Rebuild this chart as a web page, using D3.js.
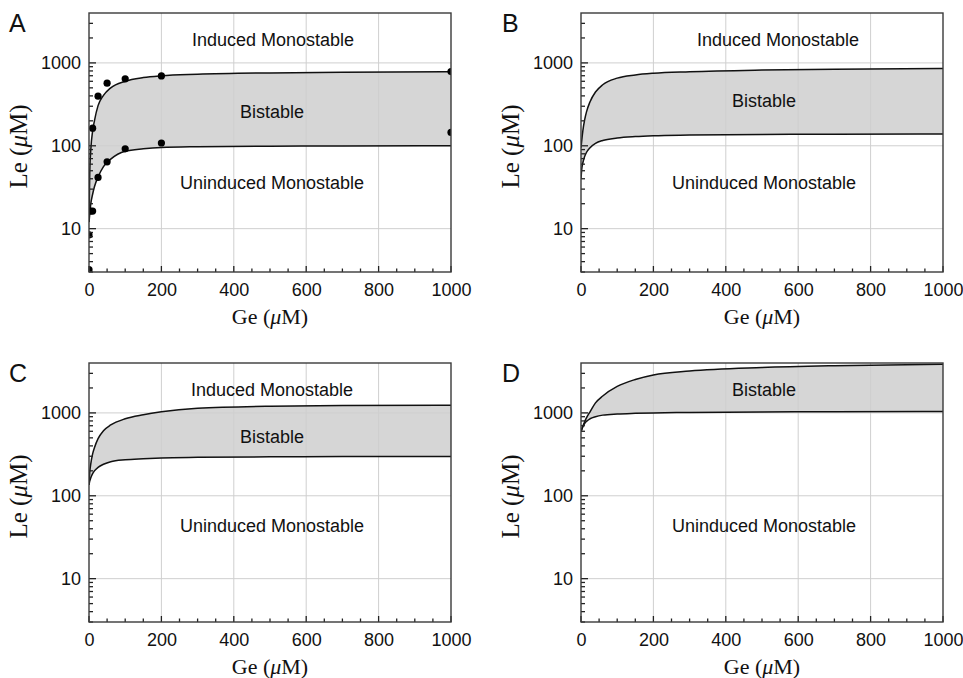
<!DOCTYPE html>
<html lang="en">
  <head>
    <meta charset="UTF-8" />
    <title>Bistability regions, Le vs Ge</title>
    <script src="https://d3js.org/d3.v7.min.js"></script>
    <style>
      body { margin: 0; background: #fff; }
      svg { display: block; }
      .tick text { font-family: "Liberation Sans", Arial, sans-serif; font-size: 18px; fill: #111; }
      .tick line { display: none; }
      .domain { display: none; }
      .tk { stroke: #222; stroke-width: 1.3px; }
      .grid line { stroke: #cfcfcf; stroke-width: 1px; }
      .frame { fill: none; stroke: #3a3a3a; stroke-width: 1.4px; }
      .band { fill: #d6d6d6; stroke: none; }
      .curve { fill: none; stroke: #111; stroke-width: 1.5px; }
      .region { font-family: "Liberation Sans", Arial, sans-serif; font-size: 18px; fill: #111; text-anchor: middle; }
      .letter { font-family: "Liberation Sans", Arial, sans-serif; font-size: 25px; fill: #111; }
      .title { font-family: "Liberation Serif", "Times New Roman", serif; font-size: 22px; fill: #111; text-anchor: middle; }
    </style>
  </head>
  <body>
    <svg id="chart" width="963" height="678"></svg>
    <script>
      // Ge sample points shared by all boundary curves
      const geGrid = [0, 2, 5, 10, 15, 25, 40, 60, 100, 150, 200, 300, 500, 700, 1000];

      const upperA = [12, 45, 90, 150, 200, 305, 405, 500, 600, 665, 700, 730, 757, 770, 782];
      const lowerA = [12, 15, 20, 26, 32, 42, 56, 69, 86, 92, 95.5, 97.5, 99, 99.6, 100];

      const upperB = [95, 115, 150, 205, 255, 340, 445, 545, 655, 715, 750, 783, 820, 840, 855];
      const lowerB = [40, 52, 62, 74, 83, 95, 107, 116, 124, 129, 132, 134.5, 137, 138, 139];

      const upperC = [135, 190, 245, 320, 380, 490, 610, 715, 850, 950, 1030, 1135, 1205, 1225, 1237];
      const lowerC = [135, 150, 165, 185, 200, 220, 240, 258, 272, 280, 286, 291, 295, 297, 298];

      const upperD = [590, 630, 690, 780, 870, 1030, 1320, 1600, 2085, 2530, 2870, 3200, 3530, 3715, 3860];
      const lowerD = [590, 630, 680, 745, 790, 850, 900, 940, 970, 988, 1000, 1012, 1025, 1033, 1040];

      // measured points, panel A only
      const dotGe = [0, 0, 4, 10, 10, 25, 25, 50, 50, 100, 100, 200, 200, 1000, 1000];
      const dotLe = [3.2, 8.4, 16.3, 16.3, 163, 41.5, 397, 64, 569, 92, 642, 108, 697, 145, 786];

      const xTicks = [0, 200, 400, 600, 800, 1000];
      const xMinor = d3.range(50, 1000, 50).filter(v => v % 200 !== 0);
      const yTicks = [10, 100, 1000];
      const yMinor = [3, 4, 5, 6, 7, 8, 9, 20, 30, 40, 50, 60, 70, 80, 90,
                      200, 300, 400, 500, 600, 700, 800, 900, 2000, 3000];

      const letters = ["A", "B", "C", "D"];

      const plotW = 362, plotH = 259;
      const panels = [
        { left: 89, top: 13, upper: upperA, lower: lowerA, dots: true,
          labels: [["Induced Monostable", 184, 27], ["Bistable", 183, 99], ["Uninduced Monostable", 183, 170]] },
        { left: 581, top: 13, upper: upperB, lower: lowerB, dots: false,
          labels: [["Induced Monostable", 197, 27], ["Bistable", 183, 88], ["Uninduced Monostable", 183, 170]] },
        { left: 89, top: 363, upper: upperC, lower: lowerC, dots: false,
          labels: [["Induced Monostable", 183, 27], ["Bistable", 183, 74], ["Uninduced Monostable", 183, 163]] },
        { left: 581, top: 363, upper: upperD, lower: lowerD, dots: false,
          labels: [["Bistable", 183, 27], ["Uninduced Monostable", 183, 163]] }
      ];

      const svg = d3.select("#chart");
      const x = d3.scaleLinear().domain([0, 1000]).range([0, plotW]);
      const y = d3.scaleLog().domain([3, 4000]).range([plotH, 0]);

      panels.forEach((p, i) => {
        const g = svg.append("g").attr("transform", `translate(${p.left},${p.top})`);

        const clipId = "clip" + i;
        g.append("clipPath").attr("id", clipId)
          .append("rect").attr("width", plotW).attr("height", plotH);

        const rows = geGrid.map((ge, k) => ({ ge, lo: p.lower[k], hi: p.upper[k] }));

        const area = d3.area()
          .x(d => x(d.ge)).y0(d => y(d.lo)).y1(d => y(d.hi))
          .curve(d3.curveMonotoneX);
        const lineHi = d3.line().x(d => x(d.ge)).y(d => y(d.hi)).curve(d3.curveMonotoneX);
        const lineLo = d3.line().x(d => x(d.ge)).y(d => y(d.lo)).curve(d3.curveMonotoneX);

        const body = g.append("g").attr("clip-path", `url(#${clipId})`);
        body.append("path").attr("class", "band").attr("d", area(rows));

        // grid
        const grid = body.append("g").attr("class", "grid");
        grid.selectAll(".gx").data(xTicks.slice(1, -1)).join("line")
          .attr("x1", d => x(d)).attr("x2", d => x(d)).attr("y1", 0).attr("y2", plotH);
        grid.selectAll(".gy").data(yTicks).join("line")
          .attr("x1", 0).attr("x2", plotW).attr("y1", d => y(d)).attr("y2", d => y(d));

        body.append("path").attr("class", "curve").attr("d", lineHi(rows));
        body.append("path").attr("class", "curve").attr("d", lineLo(rows));

        if (p.dots) {
          body.selectAll("circle").data(dotGe).join("circle")
            .attr("cx", d => x(d)).attr("cy", (d, k) => y(dotLe[k]))
            .attr("r", 3.6).attr("fill", "#000");
        }

        // tick marks drawn inward from the bottom and left edges
        const tk = g.append("g");
        tk.selectAll(".xm").data(xTicks).join("line").attr("class", "tk")
          .attr("x1", d => x(d)).attr("x2", d => x(d)).attr("y1", plotH).attr("y2", plotH - 6);
        tk.selectAll(".xn").data(xMinor).join("line").attr("class", "tk")
          .attr("x1", d => x(d)).attr("x2", d => x(d)).attr("y1", plotH).attr("y2", plotH - 3.5);
        tk.selectAll(".ym").data(yTicks).join("line").attr("class", "tk")
          .attr("x1", 0).attr("x2", 7).attr("y1", d => y(d)).attr("y2", d => y(d));
        tk.selectAll(".yn").data(yMinor).join("line").attr("class", "tk")
          .attr("x1", 0).attr("x2", 4).attr("y1", d => y(d)).attr("y2", d => y(d));

        // tick labels
        g.append("g").attr("transform", `translate(0,${plotH})`)
          .call(d3.axisBottom(x).tickValues(xTicks).tickSize(0).tickPadding(11).tickFormat(d3.format("d")));
        g.append("g")
          .call(d3.axisLeft(y).tickValues(yTicks).tickSize(0).tickPadding(8).tickFormat(d3.format("d")));

        g.append("rect").attr("class", "frame").attr("width", plotW).attr("height", plotH);

        g.selectAll(".region").data(p.labels).join("text")
          .attr("class", "region")
          .attr("x", d => d[1]).attr("y", d => d[2]).attr("dy", "0.35em")
          .text(d => d[0]);

        g.append("text").attr("class", "letter")
          .attr("x", i % 2 === 0 ? -80 : -79).attr("y", 19).text(letters[i]);

        const gx = g.append("text").attr("class", "title")
          .attr("x", plotW / 2).attr("y", plotH + 52);
        gx.append("tspan").text("Ge (");
        gx.append("tspan").attr("font-style", "italic").text("\u03bc");
        gx.append("tspan").text("M)");

        const gy = g.append("text").attr("class", "title")
          .attr("transform", `translate(-62,${plotH / 2 + 4}) rotate(-90)`)
          .style("font-size", "25px");
        gy.append("tspan").text("Le (");
        gy.append("tspan").attr("font-style", "italic").text("\u03bc");
        gy.append("tspan").text("M)");
      });
    </script>
  </body>
</html>
